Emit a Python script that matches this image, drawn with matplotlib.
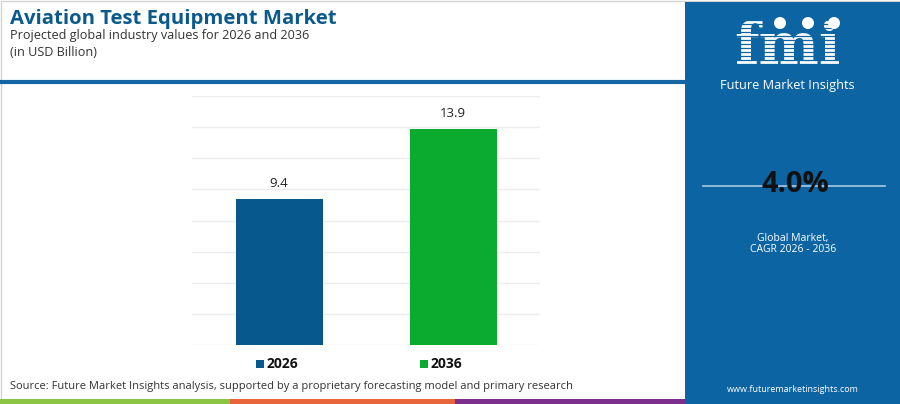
import matplotlib.pyplot as plt
from matplotlib.patches import Rectangle, Circle

years = ["2026", "2036"]
values = [9.4, 13.9]
bar_colors = ["#07588c", "#0aab2f"]
cagr = "4.0%"
title = "Aviation Test Equipment Market"
subtitle = "Projected global industry values for 2026 and 2036"
unit = "(in USD Billion)"
source = ("Source: Future Market Insights analysis, supported by a proprietary "
          "forecasting model and primary research")

W, H = 900, 404
plt.rcParams["font.family"] = ["Open Sans", "DejaVu Sans"]

fig = plt.figure(figsize=(W / 100, H / 100), dpi=100)

# background layer in pixel coords (y down)
bg = fig.add_axes([0, 0, 1, 1])
bg.set_xlim(0, W)
bg.set_ylim(H, 0)
bg.axis("off")

bg.add_patch(Rectangle((0.5, 0.5), W - 1, H - 1, fill=False, ec="#d4d4d4", lw=1))

# header
bg.text(10, 19, title, fontsize=14.6, fontweight="bold", color="#0b5a8c", va="center")
bg.text(10, 36, subtitle, fontsize=9.1, color="#333333", va="center")
bg.text(10, 53, unit, fontsize=9.1, color="#333333", va="center")
bg.plot([0, 685], [82, 82], color="#1566a2", lw=3, solid_capstyle="butt")

# bottom strip
for x0, x1, c in [(0, 230, "#8cc444"), (230, 455, "#e8643a"), (455, 685, "#7c2f8c")]:
    bg.add_patch(Rectangle((x0, 399), x1 - x0, 5, color=c, lw=0))

bg.text(10, 386, source, fontsize=8.05, color="#333333", va="center")

# right panel
panel = "#0d64a3"
bg.add_patch(Rectangle((685, 2), 215, 402, color=panel, lw=0))
bg.text(787, 64, "fmi", fontsize=41, fontweight="bold", family="DejaVu Serif",
        color="white", ha="center", va="baseline", zorder=3)
for yy in range(20, 68, 4):
    bg.plot([715, 860], [yy, yy], color=panel, lw=0.9, zorder=4)
for cx in [780, 808, 834]:
    bg.add_patch(Circle((cx, 23), 6, color="white", lw=0, zorder=5))
bg.text(787, 86, "Future Market Insights", fontsize=9.2, color="white",
        ha="center", va="center")
bg.plot([703, 885], [186, 186], color="#a9c9e6", lw=1.2)
bg.text(795, 184, cagr, fontsize=21, fontweight="bold", color="#111111",
        ha="center", va="center")
bg.text(793, 238, "Global Market,", fontsize=7.5, color="white", ha="center", va="center")
bg.text(793, 250, "CAGR 2026 - 2036", fontsize=7.5, color="white", ha="center", va="center")
bg.text(793, 389, "www.futuremarketinsights.com", fontsize=6.5, color="white",
        ha="center", va="center")

# legend
for x, lab, c in [(256, years[0], bar_colors[0]), (420, years[1], bar_colors[1])]:
    bg.add_patch(Rectangle((x, 360), 8, 8, color=c, lw=0))
    bg.text(x + 11, 364, lab, fontsize=10, fontweight="bold", color="#111111", va="center")

# chart
ax = fig.add_axes([192 / W, (H - 345) / H, 348 / W, 249 / H])
x = list(range(len(years)))
ax.bar(x, values, width=0.5, color=bar_colors, zorder=2)
for xi, v in zip(x, values):
    ax.text(xi, v + 0.55, f"{v}", ha="center", va="bottom", fontsize=9.5, color="#222222")
ax.set_xlim(-0.5, 1.5)
ax.set_ylim(0, 16)
ax.set_yticks(range(0, 17, 2))
ax.grid(axis="y", color="#ececec", lw=1, zorder=0)
ax.set_xticks([])
ax.tick_params(axis="y", length=0, labelleft=False)
for s in ax.spines.values():
    s.set_visible(False)
ax.patch.set_alpha(0)

fig.savefig("out.png", dpi=100)
